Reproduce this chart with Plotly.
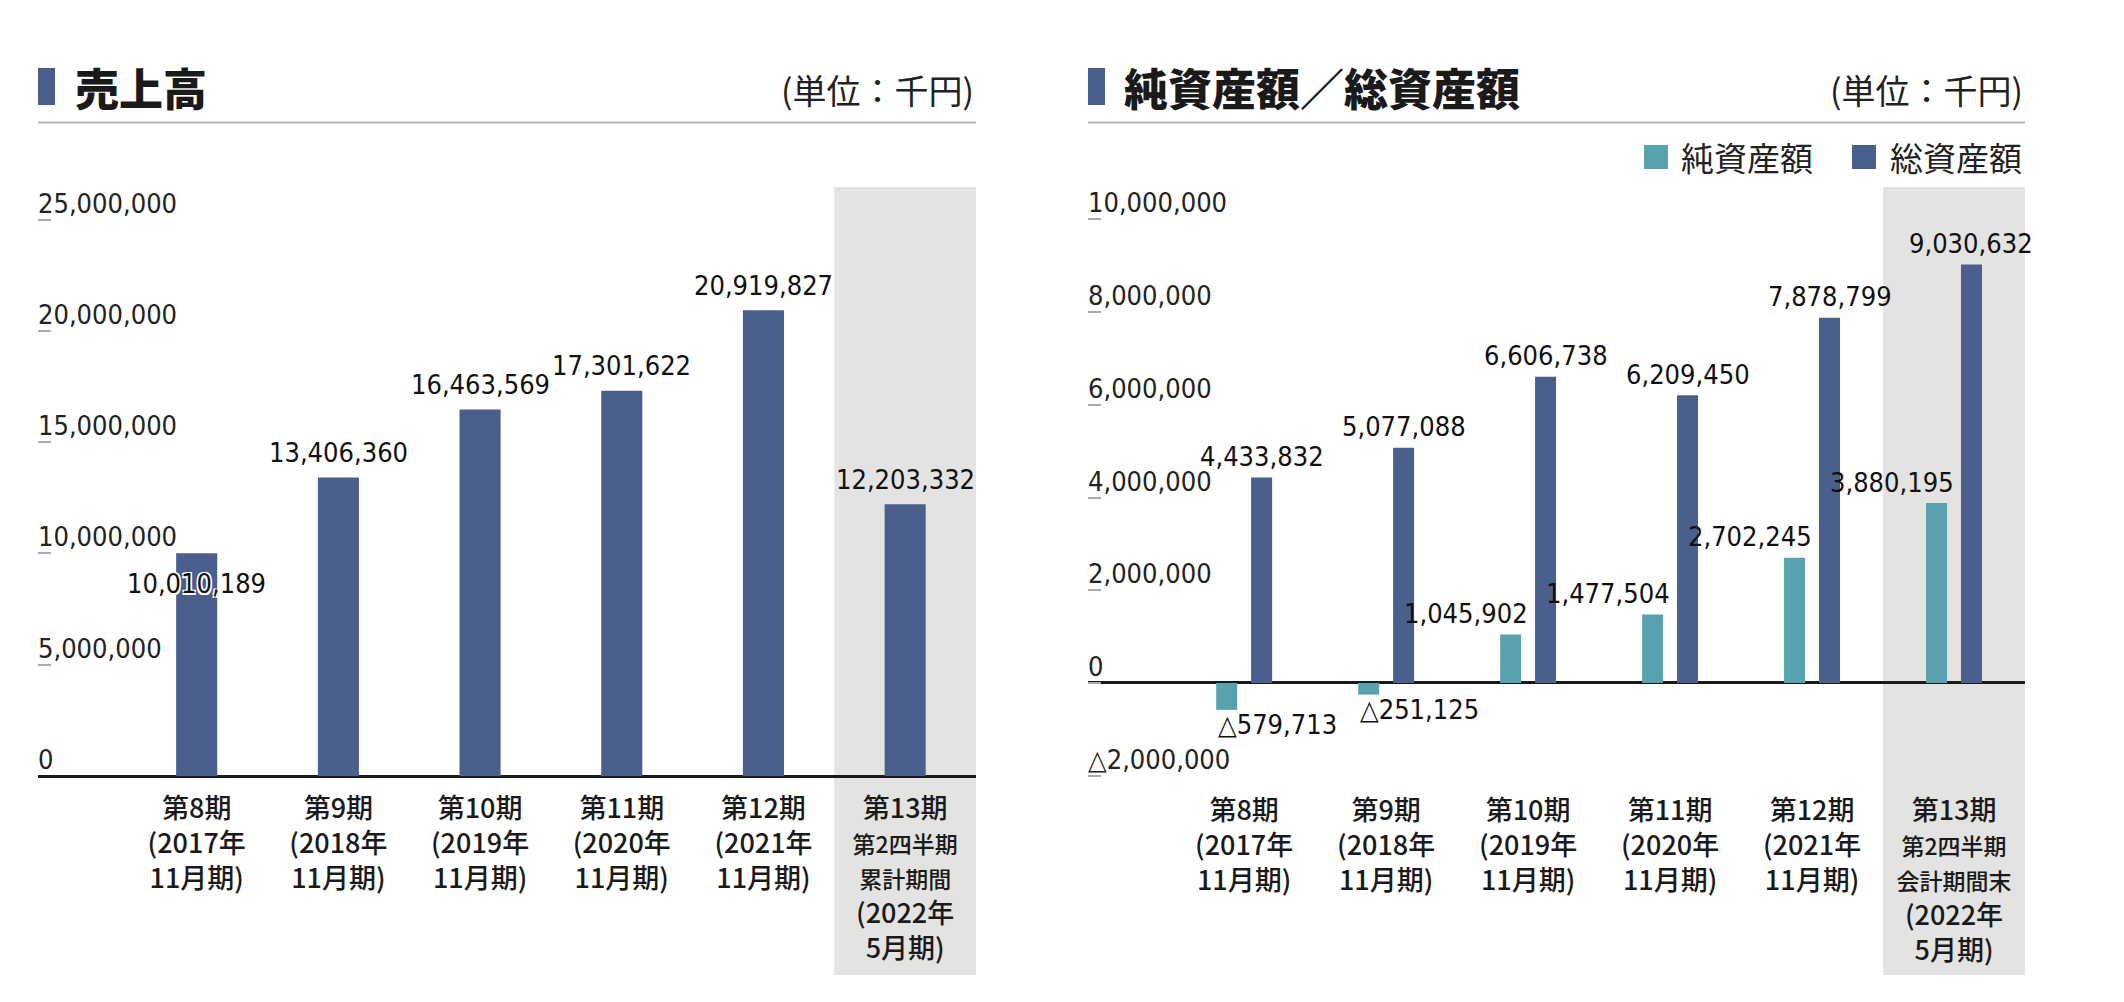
import plotly.graph_objects as go

# ---------------- data ----------------
sales_cat_labels = [
    "第8期<br>(2017年<br>11月期)",
    "第9期<br>(2018年<br>11月期)",
    "第10期<br>(2019年<br>11月期)",
    "第11期<br>(2020年<br>11月期)",
    "第12期<br>(2021年<br>11月期)",
    "第13期<br><span style='font-size:23px'>第2四半期</span><br><span style='font-size:23px'>累計期間</span><br>(2022年<br>5月期)",
]
assets_cat_labels = [
    "第8期<br>(2017年<br>11月期)",
    "第9期<br>(2018年<br>11月期)",
    "第10期<br>(2019年<br>11月期)",
    "第11期<br>(2020年<br>11月期)",
    "第12期<br>(2021年<br>11月期)",
    "第13期<br><span style='font-size:23px'>第2四半期</span><br><span style='font-size:23px'>会計期間末</span><br>(2022年<br>5月期)",
]
sales = [10010189, 13406360, 16463569, 17301622, 20919827, 12203332]
net_assets = [-579713, -251125, 1045902, 1477504, 2702245, 3880195]
total_assets = [4433832, 5077088, 6606738, 6209450, 7878799, 9030632]

sales_ticks = [0, 5000000, 10000000, 15000000, 20000000, 25000000]
assets_ticks = [-2000000, 0, 2000000, 4000000, 6000000, 8000000, 10000000]

title_sales = "売上高"
title_assets = "純資産額／総資産額"
unit_text = "(単位：千円)"
legend_names = ["純資産額", "総資産額"]

# ---------------- style ----------------
NAVY = "#4A5F8C"
TEAL = "#57A2AE"
BAND = "#E3E3E1"
RULE = "#B5B5B5"
NUM_FONT = "DejaVu Sans Condensed, Roboto, Noto Sans CJK JP, sans-serif"
JP_FONT = "Noto Sans CJK JP, sans-serif"
NUM_SIZE = 27

# page is 2124x1002; the html body has an 8px margin
PAGE_W, PAGE_H, BODY = 2124, 1002, 8
W, H = PAGE_W - 2 * BODY, PAGE_H - 2 * BODY


def px(x):
    return (x - BODY) / W


def py(y):
    return 1 - (y - BODY) / H


def fmt(v):
    return ("△" if v < 0 else "") + f"{abs(v):,}"


xs = list(range(len(sales)))

fig = go.Figure()

# left chart bars
fig.add_trace(go.Bar(x=xs, y=sales, width=0.29, marker=dict(color=NAVY, line=dict(width=0)),
                     xaxis="x", yaxis="y", showlegend=False, hoverinfo="skip"))

# right chart bars
BW = 0.148
OFF = 0.123
fig.add_trace(go.Bar(x=xs, y=net_assets, width=BW, offset=-OFF - BW / 2, name=legend_names[0],
                     marker=dict(color=TEAL, line=dict(width=0)),
                     xaxis="x2", yaxis="y2", showlegend=False, hoverinfo="skip"))
fig.add_trace(go.Bar(x=xs, y=total_assets, width=BW, offset=OFF - BW / 2, name=legend_names[1],
                     marker=dict(color=NAVY, line=dict(width=0)),
                     xaxis="x2", yaxis="y2", showlegend=False, hoverinfo="skip"))

ann = []
shapes = []
lab_font = dict(family=NUM_FONT, size=NUM_SIZE, color="#111")

# data labels - left
for i, v in enumerate(sales):
    if i == 0:
        ann.append(dict(x=i, y=v, xref="x", yref="y", text=fmt(v), showarrow=False,
                        yanchor="middle", yshift=-30,
                        font=dict(family=NUM_FONT, size=NUM_SIZE, color="#111",
                                  shadow="-1.5px -1.5px 0 #fff, 1.5px -1.5px 0 #fff, -1.5px 1.5px 0 #fff, 1.5px 1.5px 0 #fff")))
    else:
        ann.append(dict(x=i, y=v, xref="x", yref="y", text=fmt(v), showarrow=False,
                        yanchor="middle", yshift=25, font=lab_font))

# data labels - right
for i, v in enumerate(total_assets):
    ann.append(dict(x=i + OFF, y=v, xref="x2", yref="y2", text=fmt(v), showarrow=False,
                    yanchor="middle", yshift=21, font=lab_font))
for i, v in enumerate(net_assets):
    if v < 0:
        ann.append(dict(x=i - OFF - BW / 2, y=v, xref="x2", yref="y2", text=fmt(v), showarrow=False,
                        xanchor="left", yanchor="middle", yshift=-15, font=lab_font))
    else:
        ann.append(dict(x=i, y=v, xref="x2", yref="y2", text=fmt(v), showarrow=False,
                        xanchor="right", xshift=2, yanchor="middle", yshift=21, font=lab_font))

# y tick labels, sitting just above each tick
for (yr, xr, ticks) in [("y", "x", sales_ticks), ("y2", "x2", assets_ticks)]:
    for v in ticks:
        ann.append(dict(x=0, y=v, xref=xr + " domain", yref=yr, text=fmt(v), showarrow=False,
                        xanchor="left", yanchor="bottom", yshift=-1, xshift=-2,
                        font=dict(family=NUM_FONT, size=NUM_SIZE, color="#222")))

# titles, markers, units, rules
for (x0, x1, tx, title, ux) in [(38, 55, 73, title_sales, 976), (1088, 1105, 1122, title_assets, 2025)]:
    shapes.append(dict(type="rect", xref="paper", yref="paper", x0=px(x0), x1=px(x1),
                       y0=py(105), y1=py(68), fillcolor=NAVY, line=dict(width=0)))
    ann.append(dict(x=px(tx), y=py(87), xref="paper", yref="paper", text=title, showarrow=False,
                    xanchor="left", yanchor="middle",
                    font=dict(family=JP_FONT, size=44, color="#1a1a1a", weight=900)))
    ann.append(dict(x=px(ux), y=py(90), xref="paper", yref="paper", text=unit_text, showarrow=False,
                    xanchor="right", yanchor="middle",
                    font=dict(family=JP_FONT, size=34, color="#222")))
    shapes.append(dict(type="line", xref="paper", yref="paper", x0=px(x0), x1=px(ux),
                       y0=py(122.5), y1=py(122.5), line=dict(color=RULE, width=2)))

# legend (drawn by hand to get the large square keys)
for (sx, tx, col, name) in [(1644, 1679, TEAL, legend_names[0]), (1852, 1888, NAVY, legend_names[1])]:
    shapes.append(dict(type="rect", xref="paper", yref="paper", x0=px(sx), x1=px(sx + 24),
                       y0=py(169), y1=py(145), fillcolor=col, line=dict(width=0)))
    ann.append(dict(x=px(tx), y=py(157), xref="paper", yref="paper", text=name, showarrow=False,
                    xanchor="left", yanchor="middle",
                    font=dict(family=JP_FONT, size=33, color="#222")))

# gray bands for the latest period
for xr in ["x", "x2"]:
    shapes.append(dict(type="rect", xref=xr, yref="paper", x0=4.5, x1=5.5,
                       y0=py(975), y1=py(187), fillcolor=BAND, line=dict(width=0), layer="below"))

xaxis_common = dict(tickmode="array", tickvals=xs, showgrid=False, zeroline=False, showline=False,
                    ticks="", ticklabelstandoff=14,
                    tickfont=dict(family=JP_FONT, size=27, color="#1a1a1a", weight=500),
                    fixedrange=True)
yaxis_common = dict(tickmode="array", showgrid=False, showline=False, ticks="inside", ticklen=13,
                    tickwidth=2, tickcolor="#AAAAAA", showticklabels=False,
                    zeroline=True, zerolinecolor="#1a1a1a", zerolinewidth=3, fixedrange=True)

fig.update_layout(
    width=W, height=H, autosize=False,
    margin=dict(l=0, r=0, t=0, b=0, pad=0),
    paper_bgcolor="white", plot_bgcolor="rgba(0,0,0,0)",
    barmode="overlay",
    xaxis=dict(domain=[px(38), px(976)], range=[-1.12, 5.5], ticktext=sales_cat_labels, anchor="y",
               **xaxis_common),
    yaxis=dict(domain=[py(776), py(187)], range=[0, 26460000], tickvals=sales_ticks,
               anchor="x", **yaxis_common),
    xaxis2=dict(domain=[px(1088), px(2025)], range=[-1.1, 5.5], ticktext=assets_cat_labels, anchor="y2",
                **xaxis_common),
    yaxis2=dict(domain=[py(778), py(187)], range=[-2050000, 10700000], tickvals=assets_ticks,
                anchor="x2", **yaxis_common),
    annotations=ann,
    shapes=shapes,
)

fig.write_html("out.html")
